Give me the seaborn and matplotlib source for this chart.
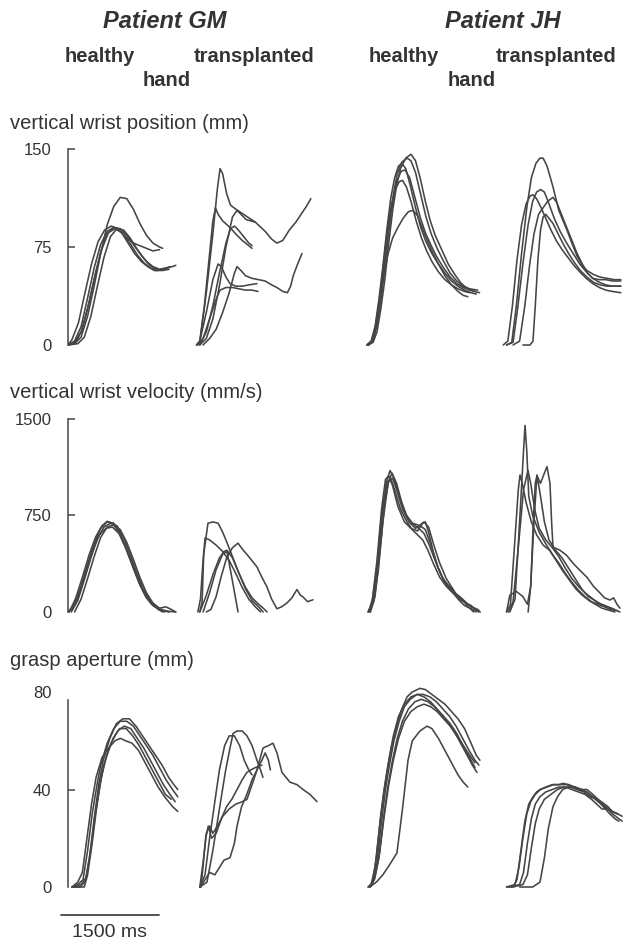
import matplotlib
matplotlib.use("Agg")
import matplotlib.pyplot as plt
import pandas as pd
import seaborn as sns

# ---------------- data (time in ms from panel start, values in units) ----------------
conditions = ["Patient GM healthy", "Patient GM transplanted", "Patient JH healthy", "Patient JH transplanted"]
row_titles = ["vertical wrist position (mm)", "vertical wrist velocity (mm/s)", "grasp aperture (mm)"]
pos_ticks = [0, 75, 150]
vel_ticks = [0, 750, 1500]
ap_ticks = [0, 40, 80]
scale_bar_ms = 1500

pos_gm_healthy = [
    [(0,0),(100,1),(200,6),(300,22),(400,45),(500,70),(600,92),(700,106),(800,113),(900,112),(1000,104),(1100,93),(1200,84),(1300,78),(1400,75),(1450,74)],
    [(0,0),(100,2),(200,10),(300,28),(400,50),(500,71),(600,85),(700,90),(800,89),(900,84),(1000,77),(1100,70),(1200,64),(1300,60),(1400,58),(1500,59),(1600,60),(1650,61)],
    [(0,0),(150,1),(250,6),(350,22),(450,45),(550,67),(650,83),(750,89),(850,88),(950,82),(1050,74),(1150,67),(1250,61),(1350,58),(1450,57),(1550,58)],
    [(0,0),(100,3),(200,14),(300,36),(400,59),(500,77),(600,87),(700,90),(800,87),(900,82),(1000,78),(1100,76),(1200,74),(1300,72),(1400,73)],
    [(0,0),(120,2),(220,12),(320,32),(420,55),(520,74),(620,86),(720,89),(820,86),(920,78),(1020,70),(1120,64),(1220,60),(1320,57),(1420,57),(1520,59)],
    [(0,0),(60,4),(160,17),(260,40),(360,62),(460,79),(560,88),(660,91),(760,89),(860,84),(960,77),(1060,69),(1160,63),(1260,59),(1360,57),(1460,58),(1560,60)],
]
pos_gm_transplanted = [
    [(100,0),(150,2),(250,40),(350,85),(420,120),(460,135),(500,131),(560,116),(620,107),(700,104),(850,99),(1000,94),(1150,87),(1250,81),(1330,78),(1420,80),(1520,88),(1620,94),(1700,100),(1780,106),(1850,112)],
    [(100,0),(150,3),(220,30),(300,70),(350,95),(390,105),(430,100),(500,95),(612,90),(700,85),(800,80),(949,74)],
    [(150,0),(250,5),(350,20),(450,45),(550,75),(650,98),(720,103),(780,100),(860,96),(1000,94)],
    [(150,0),(250,10),(350,30),(450,55),(550,78),(620,89),(680,91),(740,88),(820,83),(900,78),(950,76)],
    [(100,0),(150,3),(250,25),(350,50),(430,62),(480,60),(550,52),(612,47),(700,45),(800,45),(900,46),(1025,47)],
    [(120,0),(200,5),(300,20),(400,35),(460,42),(550,44),(650,44),(750,43),(850,42),(950,42),(1040,41)],
    [(200,0),(300,5),(400,12),(500,25),(600,40),(680,55),(720,60),(780,57),(850,53),(950,51),(1050,50),(1150,49),(1250,46),(1330,44),(1420,41),(1490,40),(1540,45),(1580,53),(1640,61),(1714,70)],
]
pos_jh_healthy = [
    [(120,0),(200,2),(260,10),(320,28),(380,50),(440,78),(500,103),(560,122),(620,135),(700,143),(780,146),(850,141),(920,128),(1000,110),(1070,96),(1150,84),(1250,73),(1350,62),(1450,54),(1550,47),(1650,43),(1750,41),(1830,40)],
    [(100,0),(170,3),(230,14),(290,35),(350,60),(410,88),(470,112),(530,128),(590,137),(640,139),(700,135),(770,122),(850,105),(930,90),(1010,79),(1100,70),(1200,62),(1300,55),(1400,49),(1500,45),(1600,42),(1700,40),(1780,39)],
    [(130,0),(200,4),(260,16),(320,37),(380,62),(440,88),(500,110),(560,125),(630,133),(690,134),(760,128),(840,113),(920,98),(1000,86),(1090,76),(1180,67),(1280,59),(1380,52),(1480,47),(1580,44),(1680,42),(1760,41)],
    [(110,0),(180,3),(240,15),(300,36),(360,62),(420,88),(480,107),(540,119),(600,125),(650,126),(710,121),(780,110),(860,95),(940,82),(1020,72),(1110,63),(1200,56),(1300,50),(1400,46),(1500,43),(1600,41),(1680,40)],
    [(120,0),(190,3),(250,14),(310,34),(370,55),(430,70),(500,82),(580,90),(660,97),(740,102),(810,103),(880,99),(950,90),(1030,80),(1120,70),(1200,62),(1300,53),(1400,46),(1500,41),(1580,38),(1650,37)],
    [(140,0),(210,5),(270,18),(330,40),(390,66),(450,92),(510,115),(570,131),(640,140),(720,143),(780,141),(850,132),(930,115),(1010,98),(1090,85),(1180,74),(1280,64),(1380,55),(1480,49),(1580,45),(1680,43),(1800,42)],
]
pos_jh_transplanted = [
    [(100,0),(180,2),(250,30),(330,70),(410,105),(480,128),(550,139),(610,143),(660,143),(720,137),(811,121),(900,103),(1025,88),(1100,78),(1180,68),(1260,61),(1331,57),(1430,54),(1530,52),(1640,51),(1750,50),(1850,50)],
    [(100,0),(200,2),(270,28),(350,62),(430,92),(500,110),(560,117),(620,119),(680,117),(750,108),(830,97),(920,87),(1020,78),(1120,70),(1220,62),(1320,56),(1420,51),(1520,48),(1620,46),(1720,45),(1850,45)],
    [(200,0),(300,3),(380,30),(450,60),(520,85),(590,100),(660,105),(730,110),(811,113),(870,109),(940,100),(1020,90),(1100,80),(1180,70),(1260,62),(1340,55),(1420,51),(1520,50),(1620,50),(1720,49),(1850,49)],
    [(50,0),(120,3),(190,30),(260,65),(330,92),(400,108),(460,114),(505,115),(560,112),(630,105),(700,97),(780,88),(860,80),(950,73),(1040,67),(1130,61),(1220,56),(1320,51),(1420,47),(1520,44),(1620,42),(1720,41),(1850,40)],
    [(350,0),(460,0),(505,3),(540,30),(580,65),(620,88),(660,98),(700,100),(750,97),(811,93),(880,86),(960,78),(1050,70),(1140,63),(1230,57),(1330,52),(1430,48),(1530,46),(1640,45),(1750,45),(1850,45)],
]

vel_gm_healthy = [
    [(0,0),(100,60),(200,200),(300,370),(400,530),(500,650),(600,700),(700,690),(800,610),(900,480),(1000,340),(1100,210),(1200,110),(1300,50),(1400,20),(1500,5),(1550,0)],
    [(50,0),(150,90),(250,250),(350,420),(450,570),(550,660),(650,690),(750,670),(850,580),(950,450),(1050,310),(1150,180),(1250,90),(1350,40),(1450,15),(1550,5),(1650,0)],
    [(0,0),(80,30),(180,150),(280,320),(380,480),(480,600),(580,650),(680,660),(780,610),(880,500),(980,370),(1080,240),(1180,130),(1280,60),(1380,25),(1480,0)],
    [(100,0),(200,100),(300,260),(400,430),(500,580),(600,660),(700,680),(800,640),(900,540),(1000,410),(1100,270),(1200,150),(1300,70),(1400,30),(1500,40),(1580,20),(1650,0)],
    [(20,0),(120,110),(220,270),(320,440),(420,580),(520,670),(600,705),(680,690),(780,620),(880,510),(980,380),(1080,250),(1180,140),(1280,65),(1380,20),(1450,0)],
]
vel_gm_transplanted = [
    [(150,0),(185,80),(210,450),(275,690),(350,700),(430,690),(500,620),(566,540),(658,420),(750,300),(850,180),(950,90),(1050,40),(1120,0)],
    [(120,0),(160,100),(200,400),(230,575),(300,560),(400,520),(500,470),(600,400),(700,300),(800,190),(900,100),(1000,40),(1080,0)],
    [(150,0),(250,130),(350,290),(450,420),(520,470),(566,480),(650,420),(750,300),(850,190),(950,110),(1050,60),(1120,30),(1180,0)],
    [(200,0),(300,150),(400,330),(500,450),(566,470),(650,240),(735,0)],
    [(250,0),(320,20),(400,120),(480,280),(560,420),(650,500),(735,535),(800,490),(900,430),(1025,350),(1100,270),(1178,195),(1250,100),(1331,25),(1400,40),(1484,70),(1560,110),(1637,175),(1690,130),(1730,117),(1800,80),(1882,95)],
]
vel_jh_healthy = [
    [(120,0),(180,60),(250,300),(320,700),(400,1000),(460,1100),(520,1040),(600,900),(700,760),(800,690),(870,680),(950,660),(1000,640),(1100,500),(1180,360),(1280,250),(1420,170),(1500,120),(1600,80),(1700,40),(1800,20),(1840,0)],
    [(150,0),(210,80),(280,320),(350,700),(430,1000),(490,1080),(560,1000),(640,850),(720,740),(820,680),(900,650),(980,610),(1060,520),(1150,400),(1250,280),(1350,200),(1450,150),(1550,110),(1650,60),(1750,30),(1820,10)],
    [(130,0),(190,100),(260,400),(330,800),(390,1030),(440,1060),(500,980),(580,820),(680,700),(780,650),(880,630),(960,690),(1000,700),(1050,620),(1120,470),(1200,340),(1300,220),(1400,160),(1500,120),(1580,90),(1650,40),(1720,20),(1780,0)],
    [(160,0),(230,120),(300,450),(380,850),(440,1020),(500,1040),(560,950),(650,800),(750,700),(850,650),(930,680),(980,700),(1050,660),(1130,520),(1220,380),(1320,260),(1420,180),(1520,100),(1620,70),(1700,50),(1760,20),(1820,0)],
    [(140,0),(200,80),(270,350),(340,750),(410,1000),(470,1040),(530,950),(620,800),(720,700),(800,640),(880,600),(960,560),(1040,480),(1120,380),(1220,270),(1320,200),(1420,150),(1520,90),(1600,50),(1680,30),(1740,0)],
]
vel_jh_transplanted = [
    [(150,0),(230,100),(300,700),(360,1250),(383,1450),(410,1250),(440,900),(500,750),(600,620),(700,530),(800,450),(900,380),(1000,300),(1100,230),(1200,170),(1300,120),(1400,80),(1500,60),(1600,40),(1700,20),(1800,10)],
    [(100,0),(160,60),(220,500),(280,950),(306,1065),(340,1000),(400,850),(480,700),(560,600),(660,520),(760,480),(860,400),(960,320),(1060,250),(1160,180),(1260,130),(1360,90),(1460,60),(1560,30),(1660,15),(1760,0)],
    [(130,0),(200,80),(280,500),(360,950),(428,1100),(470,1000),(530,800),(600,650),(700,560),(800,500),(900,430),(1000,340),(1100,260),(1200,200),(1300,150),(1400,110),(1500,70),(1600,50),(1700,30),(1836,0)],
    [(100,0),(150,130),(250,160),(350,120),(420,60),(470,200),(520,700),(566,1065),(620,900),(680,700),(750,560),(850,480),(950,420),(1050,340),(1150,260),(1250,180),(1350,120),(1450,90),(1550,60),(1650,40),(1750,20)],
    [(430,0),(470,200),(510,700),(540,1000),(566,1060),(620,1000),(680,1080),(719,1130),(765,1000),(790,700),(811,505),(918,480),(1020,440),(1117,380),(1230,320),(1331,270),(1430,200),(1530,148),(1600,110),(1683,93),(1740,110),(1790,60),(1836,30)],
]

ap_gm_healthy = [
    [(60,0),(150,1),(230,3),(300,15),(370,30),(444,42),(500,50),(600,59),(700,65),(800,68),(900,68),(1000,66),(1100,62),(1200,58),(1300,54),(1400,49),(1500,44),(1600,40),(1680,37)],
    [(60,0),(200,1),(280,4),(350,16),(420,30),(490,42),(560,51),(660,59),(760,64),(860,66),(960,65),(1060,61),(1160,57),(1260,52),(1360,47),(1460,42),(1560,38),(1640,35)],
    [(60,0),(150,2),(220,6),(290,20),(360,34),(430,45),(520,53),(620,57),(720,60),(800,61),(880,60),(980,59),(1080,56),(1180,51),(1280,46),(1380,41),(1480,37),(1600,33),(1680,31)],
    [(70,0),(180,0),(260,2),(330,12),(400,28),(470,42),(540,52),(640,61),(740,67),(840,69),(940,69),(1040,66),(1140,62),(1240,58),(1340,54),(1440,50),(1540,45),(1620,42),(1680,40)],
    [(70,0),(250,0),(300,5),(370,18),(440,33),(510,45),(590,54),(690,61),(790,65),(890,65),(990,62),(1090,58),(1190,53),(1290,48),(1390,43),(1490,38),(1580,36)],
]
ap_gm_transplanted = [
    [(150,0),(260,2),(350,15),(450,32),(540,47),(612,57),(660,63),(720,64),(800,64),(872,62),(950,58),(1025,52),(1080,48),(1117,45)],
    [(150,0),(200,10),(250,22),(300,25),(350,22),(420,25),(500,29),(600,32),(700,34),(800,35),(872,36),(950,42),(1025,48),(1117,57),(1200,58),(1270,59),(1331,55),(1408,47),(1530,43),(1637,42),(1730,40),(1836,38),(1943,35)],
    [(160,0),(230,3),(300,6),(380,5),(450,8),(520,11),(612,12),(680,18),(720,25),(790,33),(870,38),(950,44),(1025,48),(1100,52),(1150,55),(1200,52),(1230,48)],
    [(150,0),(230,5),(300,20),(380,35),(450,48),(530,58),(600,62),(680,62),(760,58),(830,52),(900,48),(950,46)],
    [(170,0),(240,20),(280,25),(330,20),(400,22),(480,28),(560,33),(640,36),(720,40),(800,44),(870,47),(930,48),(1000,49),(1100,50)],
]
ap_jh_healthy = [
    [(120,0),(170,1),(230,8),(300,25),(360,38),(413,47),(480,57),(560,66),(640,73),(720,78),(800,80),(918,81.5),(1000,81),(1100,79),(1200,77),(1300,75),(1400,72),(1500,69),(1600,65),(1700,59),(1780,54),(1836,52)],
    [(140,0),(200,2),(260,10),(330,27),(390,40),(450,50),(520,60),(600,68),(680,74),(770,77),(870,79),(970,79),(1070,78),(1170,76),(1270,73),(1370,70),(1470,66),(1570,61),(1670,56),(1760,52),(1820,50)],
    [(150,0),(220,3),(290,12),(360,28),(420,40),(490,51),(570,61),(650,68),(740,73),(840,76),(940,77),(1040,76),(1140,74),(1240,71),(1340,68),(1440,64),(1540,59),(1640,54),(1720,50),(1790,47)],
    [(160,0),(230,4),(300,14),(370,29),(440,42),(510,52),(590,61),(680,68),(780,72),(880,74),(980,75),(1080,74),(1180,72),(1280,69),(1380,66),(1480,62),(1580,58),(1680,53),(1760,49)],
    [(150,0),(250,2),(350,5),(450,9),(566,14),(650,32),(735,52),(800,60),(918,64),(1025,66),(1100,65),(1200,61),(1300,56),(1400,51),(1500,46),(1580,43),(1650,41)],
    [(130,0),(190,2),(250,12),(320,30),(380,42),(440,52),(510,62),(590,70),(680,75),(780,78),(880,79),(980,78),(1080,76),(1180,73),(1280,70),(1380,67),(1480,63),(1580,58),(1680,54),(1760,51)],
]
ap_jh_transplanted = [
    [(100,0),(200,0),(260,3),(320,15),(380,27),(440,34),(505,37),(560,39),(612,40),(700,41),(800,42),(900,42),(964,42.5),(1050,42),(1150,41),(1250,40),(1331,40),(1420,38),(1500,36),(1576,34.5),(1650,33),(1720,31),(1800,30),(1870,29)],
    [(100,0),(230,1),(290,8),(350,20),(410,30),(470,35),(540,38),(620,40),(720,41),(820,42),(920,42),(1020,42),(1120,41),(1220,40),(1320,39),(1420,37),(1520,35),(1620,33),(1720,30),(1820,28),(1870,27)],
    [(150,0),(300,1),(360,6),(420,18),(480,28),(540,34),(610,37),(700,39),(800,40),(900,41),(1000,41),(1100,40),(1200,39),(1300,38),(1400,36),(1480,34),(1560,32),(1640,32),(1720,31),(1800,30)],
    [(200,0),(350,1),(420,5),(480,16),(540,26),(600,32),(680,36),(780,38),(880,40),(980,41),(1080,41),(1180,40),(1280,39),(1380,37),(1480,36),(1580,33),(1680,30),(1760,28),(1820,27)],
    [(300,0),(500,0),(612,2),(680,12),(740,24),(811,33),(880,37),(960,40),(1050,41),(1150,41),(1250,40),(1330,39),(1420,37),(1500,35),(1600,33),(1700,31),(1800,30)],
]

# ---------------- layout (pixels) ----------------
W, H = 623, 941
MS_PER_PX = 1500 / 98.0
XMAX = 2000
COL_LEFT = [68, 190, 360, 500]
LINE = "#454545"
TEXT = "#333333"

rows = [
    dict(traces=[pos_gm_healthy, pos_gm_transplanted, pos_jh_healthy, pos_jh_transplanted],
         ticks=pos_ticks, y0=345, y1=149, lo=-8, hi=158, title_y=124, tick_top=True),
    dict(traces=[vel_gm_healthy, vel_gm_transplanted, vel_jh_healthy, vel_jh_transplanted],
         ticks=vel_ticks, y0=612, y1=419, lo=-80, hi=1560, title_y=392, tick_top=True),
    dict(traces=[ap_gm_healthy, ap_gm_transplanted, ap_jh_healthy, ap_jh_transplanted],
         ticks=ap_ticks, y0=887, y1=692, lo=-25, hi=84, title_y=661, tick_top=False),
]

sns.set_theme(style="white")
plt.rcParams["font.family"] = ["Liberation Sans", "DejaVu Sans"]

fig = plt.figure(figsize=(W / 100, H / 100), dpi=100)


def add_axes_px(left_px, y0, y1, v0, v1, lo, hi):
    s = (y0 - y1) / (v1 - v0)
    top = y1 - (hi - v1) * s
    bottom = y0 + (v0 - lo) * s
    width = XMAX / MS_PER_PX
    ax = fig.add_axes([left_px / W, 1 - bottom / H, width / W, (bottom - top) / H])
    ax.set_xlim(0, XMAX)
    ax.set_ylim(lo, hi)
    ax.set_facecolor("none")
    return ax


def to_frame(traces):
    recs = []
    for k, tr in enumerate(traces):
        for t, v in tr:
            recs.append({"t": t, "v": v, "trial": k})
    return pd.DataFrame(recs)


for r, row in enumerate(rows):
    for c in range(4):
        ax = add_axes_px(COL_LEFT[c], row["y0"], row["y1"], row["ticks"][0], row["ticks"][-1],
                         row["lo"], row["hi"])
        df = to_frame(row["traces"][c])
        sns.lineplot(data=df, x="t", y="v", units="trial", estimator=None, sort=False,
                     color=LINE, lw=1.15, ax=ax, legend=False)
        ax.set_xlabel("")
        ax.set_ylabel("")
        for side in ["top", "right", "bottom"]:
            ax.spines[side].set_visible(False)
        ax.set_xticks([])
        if c == 0:
            ax.spines["left"].set_visible(True)
            ax.spines["left"].set_color(LINE)
            ax.spines["left"].set_linewidth(1.1)
            top_bound = row["ticks"][-1] if row["tick_top"] else row["ticks"][-1] * 0.96
            ax.spines["left"].set_bounds(row["ticks"][0], top_bound)
            ax.set_yticks(row["ticks"])
            ax.set_yticklabels([str(t) for t in row["ticks"]])
            ax.tick_params(axis="y", direction="in", length=5, width=1.1, color=LINE,
                           pad=12, labelsize=12, labelcolor=TEXT, left=True)
            if not row["tick_top"]:
                ax.yaxis.get_major_ticks()[-1].tick1line.set_visible(False)
            ax.yaxis.get_major_ticks()[0].tick1line.set_visible(False)
            if r == 2:
                # 1500 ms scale bar in data coordinates
                x0 = (61 - COL_LEFT[0]) * MS_PER_PX
                yb = (row["y0"] - 915) / ((row["y0"] - row["y1"]) / 80.0)
                yt = (row["y0"] - 932) / ((row["y0"] - row["y1"]) / 80.0)
                ax.plot([x0, x0 + scale_bar_ms], [yb, yb], color=LINE, lw=1.3, clip_on=False)
                ax.text(x0 + scale_bar_ms / 2, yt, f"{scale_bar_ms} ms", ha="center", va="center",
                        fontsize=14, color=TEXT, clip_on=False)
        else:
            ax.spines["left"].set_visible(False)
            ax.set_yticks([])
    fig.text(10 / W, 1 - row["title_y"] / H, row_titles[r], ha="left", va="center",
             fontsize=14.5, color=TEXT)


def ftext(x, y, s, **kw):
    fig.text(x / W, 1 - y / H, s, ha="center", va="center", color=TEXT, **kw)


ftext(165, 22, "Patient GM", fontsize=17, fontweight="bold", fontstyle="italic")
ftext(503, 22, "Patient JH", fontsize=17, fontweight="bold", fontstyle="italic")
ftext(100, 57, "healthy", fontsize=14.5, fontweight="bold")
ftext(254, 57, "transplanted", fontsize=14.5, fontweight="bold")
ftext(167, 80, "hand", fontsize=14.5, fontweight="bold")
ftext(404, 57, "healthy", fontsize=14.5, fontweight="bold")
ftext(556, 57, "transplanted", fontsize=14.5, fontweight="bold")
ftext(472, 80, "hand", fontsize=14.5, fontweight="bold")

fig.savefig("out.png", dpi=100)
